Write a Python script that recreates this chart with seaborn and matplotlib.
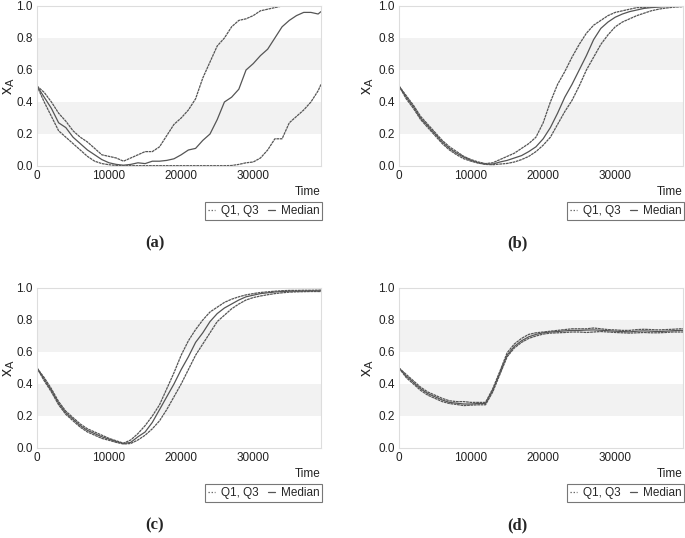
import numpy as np
import pandas as pd
import seaborn as sns
import matplotlib.pyplot as plt
from matplotlib.lines import Line2D

sns.set_style('white')
plt.rcParams['font.family'] = ['Liberation Sans', 'DejaVu Sans']
plt.rcParams['mathtext.fontset'] = 'custom'
plt.rcParams['mathtext.rm'] = 'Liberation Sans'

# time axis (generations)
time = list(range(0, 39001, 1000)) + [39400]

# panel (a)
a_q3 = [0.50, 0.46, 0.40, 0.33, 0.28, 0.22, 0.18, 0.15, 0.11, 0.07,
        0.06, 0.05, 0.03, 0.05, 0.07, 0.09, 0.09, 0.12, 0.19, 0.26,
        0.30, 0.35, 0.42, 0.55, 0.65, 0.75, 0.80, 0.87, 0.91, 0.92,
        0.94, 0.97, 0.98, 0.99, 1.00, 1.00, 1.00, 1.00, 1.00, 1.00, 1.00]
a_med = [0.50, 0.43, 0.36, 0.27, 0.24, 0.18, 0.14, 0.10, 0.07, 0.04,
         0.02, 0.01, 0.005, 0.01, 0.02, 0.015, 0.03, 0.03, 0.035, 0.045,
         0.07, 0.10, 0.11, 0.16, 0.20, 0.29, 0.40, 0.43, 0.48, 0.60,
         0.64, 0.69, 0.73, 0.80, 0.87, 0.91, 0.94, 0.96, 0.96, 0.95, 0.965]
a_q1 = [0.50, 0.40, 0.31, 0.22, 0.18, 0.14, 0.10, 0.06, 0.03, 0.015,
        0.008, 0.003, 0.002, 0.002, 0.002, 0.002, 0.002, 0.002, 0.002, 0.002,
        0.002, 0.002, 0.002, 0.002, 0.002, 0.002, 0.002, 0.003, 0.01, 0.02,
        0.025, 0.05, 0.10, 0.17, 0.17, 0.27, 0.31, 0.35, 0.40, 0.47, 0.51]

# panel (b)
b_q3 = [0.50, 0.44, 0.38, 0.31, 0.26, 0.21, 0.16, 0.12, 0.09, 0.06,
        0.04, 0.025, 0.015, 0.02, 0.04, 0.06, 0.08, 0.11, 0.14, 0.18,
        0.27, 0.40, 0.51, 0.59, 0.68, 0.76, 0.83, 0.88, 0.91, 0.94,
        0.96, 0.97, 0.98, 0.99, 0.99, 0.995, 0.997, 0.998, 0.999, 1.0, 1.0]
b_med = [0.50, 0.43, 0.37, 0.30, 0.25, 0.20, 0.15, 0.11, 0.08, 0.055,
         0.035, 0.02, 0.012, 0.012, 0.025, 0.035, 0.05, 0.065, 0.09, 0.12,
         0.17, 0.24, 0.33, 0.43, 0.51, 0.60, 0.69, 0.79, 0.86, 0.90,
         0.93, 0.95, 0.965, 0.975, 0.985, 0.99, 0.993, 0.996, 0.998, 0.999, 0.999]
b_q1 = [0.50, 0.42, 0.36, 0.29, 0.24, 0.19, 0.14, 0.10, 0.07, 0.045,
        0.03, 0.018, 0.01, 0.008, 0.012, 0.016, 0.025, 0.04, 0.06, 0.09,
        0.13, 0.18, 0.26, 0.34, 0.41, 0.50, 0.60, 0.68, 0.76, 0.82,
        0.87, 0.90, 0.92, 0.94, 0.955, 0.97, 0.98, 0.987, 0.992, 0.995, 0.996]

# panel (c)
c_q3 = [0.50, 0.44, 0.37, 0.29, 0.23, 0.19, 0.15, 0.12, 0.10, 0.08,
        0.06, 0.045, 0.03, 0.05, 0.09, 0.14, 0.20, 0.27, 0.37, 0.47,
        0.58, 0.67, 0.74, 0.80, 0.85, 0.88, 0.91, 0.93, 0.945, 0.957,
        0.965, 0.972, 0.976, 0.98, 0.983, 0.985, 0.985, 0.986, 0.986, 0.987, 0.987]
c_med = [0.50, 0.43, 0.36, 0.28, 0.22, 0.18, 0.14, 0.11, 0.09, 0.07,
         0.055, 0.04, 0.028, 0.035, 0.07, 0.10, 0.16, 0.24, 0.32, 0.40,
         0.49, 0.57, 0.66, 0.72, 0.79, 0.84, 0.875, 0.90, 0.925, 0.945,
         0.955, 0.965, 0.97, 0.975, 0.978, 0.98, 0.98, 0.981, 0.982, 0.982, 0.982]
c_q1 = [0.50, 0.42, 0.35, 0.27, 0.21, 0.17, 0.13, 0.10, 0.08, 0.06,
        0.048, 0.035, 0.025, 0.028, 0.05, 0.08, 0.12, 0.17, 0.24, 0.32,
        0.40, 0.49, 0.58, 0.65, 0.72, 0.79, 0.83, 0.87, 0.90, 0.925,
        0.94, 0.95, 0.958, 0.965, 0.97, 0.974, 0.976, 0.977, 0.978, 0.978, 0.978]

# panel (d)
d_q3 = [0.50, 0.46, 0.42, 0.38, 0.35, 0.33, 0.31, 0.295, 0.29, 0.29,
        0.285, 0.285, 0.285, 0.37, 0.48, 0.595, 0.65, 0.685, 0.71, 0.72,
        0.725, 0.73, 0.735, 0.74, 0.745, 0.745, 0.745, 0.75, 0.745, 0.74,
        0.738, 0.735, 0.735, 0.74, 0.742, 0.74, 0.738, 0.74, 0.742, 0.745, 0.745]
d_med = [0.50, 0.45, 0.41, 0.37, 0.34, 0.32, 0.30, 0.285, 0.28, 0.275,
         0.275, 0.278, 0.278, 0.36, 0.47, 0.58, 0.635, 0.67, 0.695, 0.71,
         0.72, 0.725, 0.728, 0.732, 0.735, 0.735, 0.737, 0.738, 0.736, 0.733,
         0.73, 0.728, 0.726, 0.73, 0.732, 0.73, 0.728, 0.73, 0.733, 0.735, 0.735]
d_q1 = [0.50, 0.44, 0.40, 0.36, 0.33, 0.31, 0.29, 0.278, 0.272, 0.265,
        0.268, 0.27, 0.27, 0.35, 0.46, 0.57, 0.625, 0.66, 0.685, 0.70,
        0.712, 0.718, 0.72, 0.722, 0.725, 0.725, 0.722, 0.725, 0.728, 0.725,
        0.722, 0.72, 0.718, 0.72, 0.722, 0.72, 0.72, 0.722, 0.725, 0.725, 0.725]

panels = [('(a)', a_q1, a_med, a_q3), ('(b)', b_q1, b_med, b_q3),
          ('(c)', c_q1, c_med, c_q3), ('(d)', d_q1, d_med, d_q3)]

W, H = 685, 538
fig = plt.figure(figsize=(W / 100, H / 100), dpi=100)
lefts = [37, 399]
tops = [6, 288]
line_col = '#555555'
grid_col = '#dddddd'

for i, (tag, q1, med, q3) in enumerate(panels):
    l = lefts[i % 2]
    t = tops[i // 2]
    ax = fig.add_axes([l / W, 1 - (t + 160) / H, 284 / W, 160 / H])
    ax.axhspan(0.2, 0.4, color='#f2f2f2', lw=0, zorder=0)
    ax.axhspan(0.6, 0.8, color='#f2f2f2', lw=0, zorder=0)
    df = pd.DataFrame({'Time': time, 'q1': q1, 'med': med, 'q3': q3})
    sns.lineplot(data=df, x='Time', y='q1', ax=ax, color=line_col, lw=0.9,
                 dashes=(2.2, 0.5))
    sns.lineplot(data=df, x='Time', y='q3', ax=ax, color=line_col, lw=0.9,
                 dashes=(2.2, 0.5))
    sns.lineplot(data=df, x='Time', y='med', ax=ax, color=line_col, lw=0.9)
    ax.set_xlim(0, 39400)
    ax.set_ylim(0, 1)
    ax.set_xticks([0, 10000, 20000, 30000])
    ax.set_yticks([0, 0.2, 0.4, 0.6, 0.8, 1.0])
    ax.set_yticklabels(['0.0', '0.2', '0.4', '0.6', '0.8', '1.0'])
    ax.tick_params(length=0, labelsize=8.5, colors='#222222', pad=3)
    for s in ax.spines.values():
        s.set_color(grid_col)
        s.set_linewidth(0.8)
    ax.set_xlabel('')
    ax.set_ylabel(r'x$_\mathregular{A}$', fontsize=11.5, va='center')
    ax.yaxis.set_label_coords(-0.098 if i % 2 == 0 else -0.11, 0.5)
    ax.text(1.0, -0.165, 'Time', transform=ax.transAxes, ha='right',
            va='center', fontsize=8.5, color='#222222')
    handles = [Line2D([], [], color=line_col, lw=0.9, dashes=(1, 1.5)),
               Line2D([], [], color=line_col, lw=0.9)]
    leg = ax.legend(handles, ['Q1, Q3', 'Median'], ncol=2, fontsize=8.5,
                    loc='upper right', bbox_to_anchor=(1.004, -0.225),
                    frameon=True, fancybox=False, handlelength=0.6,
                    handletextpad=0.5, columnspacing=0.8, borderpad=0.25,
                    borderaxespad=0)
    leg.get_frame().set_edgecolor('#555555')
    leg.get_frame().set_linewidth(0.8)
    fig.text((l + 118) / W, 1 - (t + 237) / H, tag, ha='center', va='center',
             fontsize=12, fontweight='bold', family='Liberation Serif')

fig.savefig('out.png', dpi=100)
